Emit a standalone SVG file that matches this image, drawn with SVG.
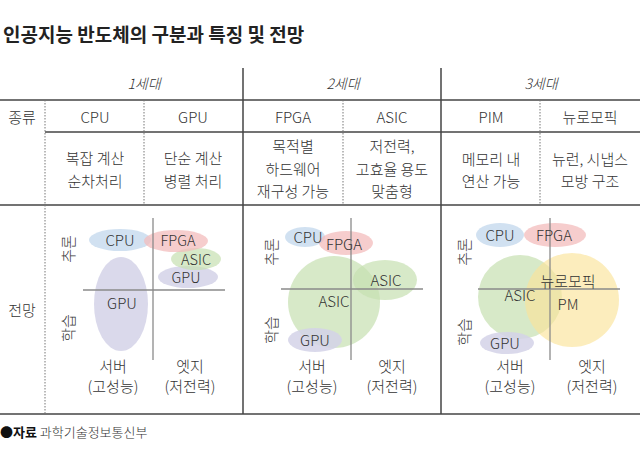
<svg xmlns="http://www.w3.org/2000/svg" width="640" height="455" viewBox="0 0 640 455">
<style>
text{font-family:"Noto Sans CJK KR","Noto Sans",sans-serif;fill:#333;font-size:15px;font-weight:300;}
.t{text-anchor:middle;}
.title{font-size:19px;font-weight:bold;fill:#222;}
.gen{font-size:14px;font-style:italic;text-anchor:middle;}
.ft{font-size:13px;}
.solid{stroke:#444;stroke-width:1.5;fill:none;}
.dot{stroke:#777;stroke-width:1;stroke-dasharray:1.5 1.5;fill:none;}
.axis{stroke:#8a8a8a;stroke-width:1.3;fill:none;}
.blue{fill:#c9dcef;fill-opacity:0.85;}
.pink{fill:#f3bcbc;fill-opacity:0.75;}
.green{fill:#c6e0b0;fill-opacity:0.7;}
.lav{fill:#d3d2e8;fill-opacity:0.85;}
.yel{fill:#fbe39a;fill-opacity:0.65;}
.rot{text-anchor:middle;dominant-baseline:central;}
.sm{font-size:14.5px;}
</style>
<text id="title" class="title" x="3" y="42">인공지능 반도체의 구분과 특징 및 전망</text>
<g id="table-lines">
<line class="solid" x1="0" y1="100" x2="640" y2="100"/>
<line class="solid" x1="45" y1="132" x2="640" y2="132"/>
<line class="solid" x1="0" y1="205" x2="640" y2="205"/>
<line class="solid" x1="0" y1="414" x2="640" y2="414"/>
<line class="solid" x1="243" y1="68" x2="243" y2="414"/>
<line class="solid" x1="441" y1="68" x2="441" y2="414"/>
<line class="dot" x1="45" y1="100" x2="45" y2="414"/>
<line class="dot" x1="144" y1="100" x2="144" y2="205"/>
<line class="dot" x1="343" y1="100" x2="343" y2="205"/>
<line class="dot" x1="540" y1="100" x2="540" y2="205"/>
</g>
<g id="header">
<text class="gen" x="144" y="89">1세대</text>
<text class="gen" x="343" y="89">2세대</text>
<text class="gen" x="541" y="89">3세대</text>
<text class="t" x="22" y="123">종류</text>
<text class="t" x="95" y="123">CPU</text>
<text class="t" x="193" y="123">GPU</text>
<text class="t" x="293" y="123">FPGA</text>
<text class="t" x="392" y="123">ASIC</text>
<text class="t" x="491" y="123">PIM</text>
<text class="t" x="590" y="123">뉴로모픽</text>
</g>
<g id="desc">
<text class="t" x="95" y="164">복잡 계산</text>
<text class="t" x="95" y="187">순차처리</text>
<text class="t" x="193" y="164">단순 계산</text>
<text class="t" x="193" y="187">병렬 처리</text>
<text class="t" x="293" y="152">목적별</text>
<text class="t" x="293" y="175">하드웨어</text>
<text class="t" x="293" y="197">재구성 가능</text>
<text class="t" x="392" y="152">저전력,</text>
<text class="t" x="392" y="175">고효율 용도</text>
<text class="t" x="392" y="197">맞춤형</text>
<text class="t" x="491" y="165">메모리 내</text>
<text class="t" x="491" y="187">연산 가능</text>
<text class="t" x="590" y="165">뉴런, 시냅스</text>
<text class="t" x="590" y="187">모방 구조</text>
<text class="t" x="22" y="316">전망</text>
</g>
<g id="chart1">
<ellipse class="lav" cx="121" cy="304" rx="27" ry="47"/>
<ellipse class="blue" cx="120" cy="240" rx="31" ry="11"/>
<ellipse class="lav" cx="188" cy="277" rx="30" ry="11"/>
<ellipse class="green" cx="196" cy="259" rx="25" ry="11"/>
<ellipse class="pink" cx="176" cy="241" rx="32" ry="11"/>
<line class="axis" x1="153" y1="218" x2="153" y2="360"/>
<line class="axis" x1="83" y1="290" x2="225" y2="290"/>
<text class="t" x="120" y="246">CPU</text>
<text class="t sm" x="178" y="246">FPGA</text>
<text class="t sm" x="196" y="264.5">ASIC</text>
<text class="t sm" x="186" y="283">GPU</text>
<text class="t" x="122" y="309">GPU</text>
<text class="rot" transform="rotate(-90 67 249)" x="67" y="249">추론</text>
<text class="rot" transform="rotate(-90 67 328)" x="67" y="328">학습</text>
<text class="t" x="113" y="372">서버</text>
<text class="t" x="113" y="392">(고성능)</text>
<text class="t" x="190" y="372">엣지</text>
<text class="t" x="190" y="392">(저전력)</text>
</g>
<g id="chart2">
<ellipse class="green" cx="334" cy="302" rx="46" ry="46"/>
<ellipse class="green" cx="385" cy="280" rx="32" ry="20"/>
<ellipse class="lav" cx="315" cy="340" rx="27" ry="12"/>
<ellipse class="blue" cx="305" cy="237" rx="20" ry="10"/>
<ellipse class="pink" cx="346" cy="243" rx="27" ry="12"/>
<line class="axis" x1="351" y1="218" x2="351" y2="360"/>
<line class="axis" x1="281" y1="289" x2="423" y2="289"/>
<text class="t" x="308" y="243">CPU</text>
<text class="t" x="344" y="250">FPGA</text>
<text class="t" x="386" y="286">ASIC</text>
<text class="t" x="334" y="307">ASIC</text>
<text class="t" x="315" y="346">GPU</text>
<text class="rot" transform="rotate(-90 270 252)" x="270" y="252">추론</text>
<text class="rot" transform="rotate(-90 270 330)" x="270" y="330">학습</text>
<text class="t" x="312" y="372">서버</text>
<text class="t" x="312" y="392">(고성능)</text>
<text class="t" x="392" y="372">엣지</text>
<text class="t" x="392" y="392">(저전력)</text>
</g>
<g id="chart3">
<ellipse class="green" cx="520" cy="297" rx="42" ry="42"/>
<ellipse class="yel" cx="572" cy="300" rx="47" ry="47"/>
<ellipse class="blue" cx="500" cy="235" rx="24" ry="12"/>
<ellipse class="pink" cx="555" cy="235" rx="31" ry="12"/>
<ellipse class="lav" cx="507" cy="343" rx="27" ry="11"/>
<line class="axis" x1="550" y1="218" x2="550" y2="360"/>
<line class="axis" x1="478" y1="289" x2="620" y2="289"/>
<text class="t" x="500" y="241">CPU</text>
<text class="t" x="554" y="241">FPGA</text>
<text class="t" x="520" y="301">ASIC</text>
<text class="t" x="568" y="287">뉴로모픽</text>
<text class="t" x="568" y="310">PM</text>
<text class="t" x="505" y="349">GPU</text>
<text class="rot" transform="rotate(-90 463 252)" x="463" y="252">추론</text>
<text class="rot" transform="rotate(-90 463 332)" x="463" y="332">학습</text>
<text class="t" x="510" y="372">서버</text>
<text class="t" x="510" y="392">(고성능)</text>
<text class="t" x="592" y="372">엣지</text>
<text class="t" x="592" y="392">(저전력)</text>
</g>
<text id="footer" class="ft" x="0" y="437"><tspan font-weight="bold" fill="#111">●자료</tspan> 과학기술정보통신부</text>
</svg>
